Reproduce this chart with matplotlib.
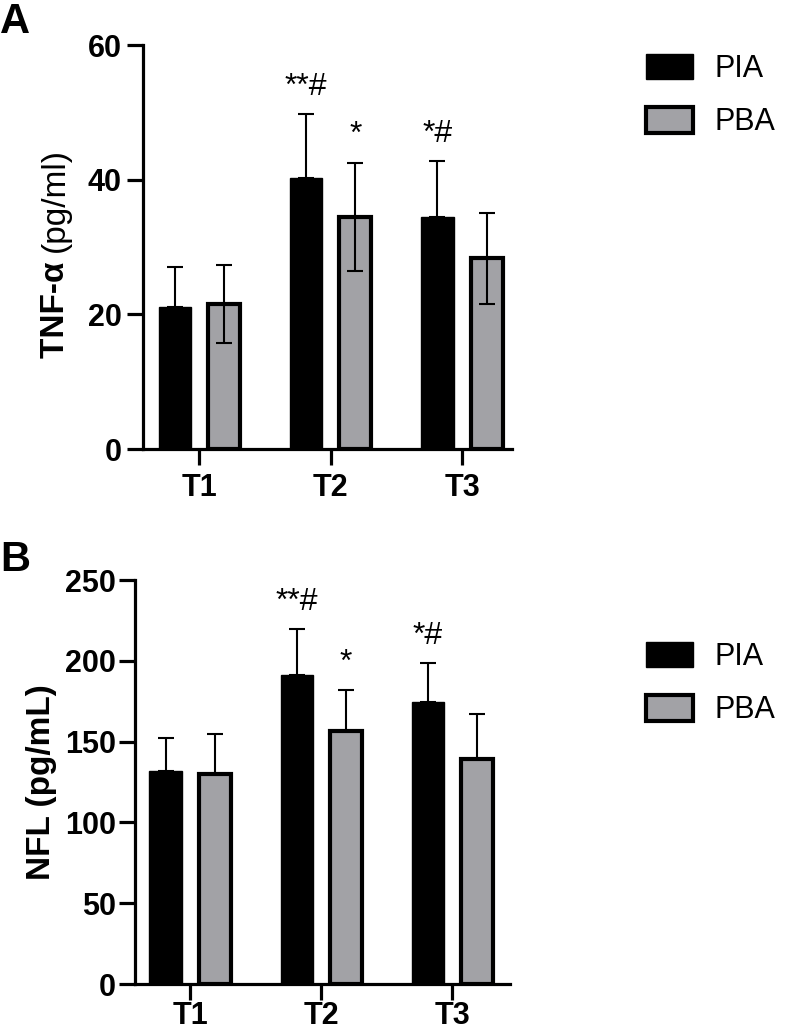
import matplotlib
matplotlib.use("Agg")
import matplotlib.pyplot as plt
import numpy as np
from matplotlib.patches import Patch

plt.rcParams["font.family"] = ["Liberation Sans", "DejaVu Sans"]

groups = ["T1", "T2", "T3"]

# panel A: TNF-alpha (pg/ml)
tnf_pia = [21.1, 40.3, 34.4]
tnf_pia_sd = [5.9, 9.4, 8.3]
tnf_pba = [21.6, 34.5, 28.3]
tnf_pba_sd = [5.8, 8.0, 6.7]
tnf_marks_pia = ["", "**#", "*#"]
tnf_marks_pba = ["", "*", ""]

# panel B: NFL (pg/mL)
nfl_pia = [132, 191, 174.5]
nfl_pia_sd = [20, 28.5, 24]
nfl_pba = [130, 156.5, 139.5]
nfl_pba_sd = [24.5, 25.5, 27.5]
nfl_marks_pia = ["", "**#", "*#"]
nfl_marks_pba = ["", "*", ""]

black = "#000000"
gray = "#a2a2a6"

W, H = 786, 1035
fig = plt.figure(figsize=(W / 100, H / 100), dpi=100)


def rect(l, t, r, b):
    return [l / W, 1 - b / H, (r - l) / W, (b - t) / H]


def panel(ax, pia, pia_sd, pba, pba_sd, marks_pia, marks_pba, ymax, step,
          xlim, pba_both, xpad, ypad):
    x = np.arange(len(groups))
    off, w = 0.187, 0.245
    ax.bar(x - off, pia, w, color=black, edgecolor=black, linewidth=1, zorder=2)
    ax.bar(x + off, pba, w, color=gray, edgecolor=black, linewidth=3, zorder=2)
    ax.errorbar(x - off, pia, yerr=[np.zeros(3), pia_sd], fmt="none",
                ecolor=black, elinewidth=1.5, capsize=6, capthick=1.5, zorder=1)
    low = pba_sd if pba_both else np.zeros(3)
    ax.errorbar(x + off, pba, yerr=[low, pba_sd], fmt="none",
                ecolor=black, elinewidth=1.5, capsize=6, capthick=1.5, zorder=3)
    for xi, v, s, m in zip(x - off, pia, pia_sd, marks_pia):
        if m:
            ax.annotate(m, (xi, v + s), xytext=(0, 14), textcoords="offset points",
                        ha="center", va="baseline", fontsize=23)
    for xi, v, s, m in zip(x + off, pba, pba_sd, marks_pba):
        if m:
            ax.annotate(m, (xi, v + s), xytext=(0, 14), textcoords="offset points",
                        ha="center", va="baseline", fontsize=23)
    ax.set_xlim(*xlim)
    ax.set_ylim(0, ymax)
    ax.set_yticks(np.arange(0, ymax + 1, step))
    ax.set_xticks(x)
    ax.set_xticklabels(groups)
    for sp in ["top", "right"]:
        ax.spines[sp].set_visible(False)
    for sp in ["left", "bottom"]:
        ax.spines[sp].set_linewidth(2.3)
    ax.tick_params(length=11.5, width=2.3, labelsize=22)
    ax.tick_params(axis="y", pad=ypad)
    ax.tick_params(axis="x", pad=xpad)
    for lab in ax.get_xticklabels() + ax.get_yticklabels():
        lab.set_fontweight("bold")


def legend(ax, top):
    handles = [Patch(facecolor=black, edgecolor=black, linewidth=1, label="PIA"),
               Patch(facecolor=gray, edgecolor=black, linewidth=3, label="PBA")]
    ax.legend(handles=handles, loc="upper left", frameon=False, fontsize=22,
              bbox_to_anchor=(646 / W, 1 - top / H), bbox_transform=fig.transFigure,
              borderpad=0, handlelength=1.55, handleheight=0.9, handletextpad=0.7,
              labelspacing=0.75, borderaxespad=0)


axA = fig.add_axes(rect(143, 45, 512, 449))
panel(axA, tnf_pia, tnf_pia_sd, tnf_pba, tnf_pba_sd, tnf_marks_pia, tnf_marks_pba,
      60, 20, (-0.428, 2.38), True, 6, 4)
legend(axA, 54)
fig.text(55 / W, 1 - 252 / H, "TNF-α ", rotation=90, ha="center", va="top",
         fontsize=24, fontweight="bold")
fig.text(55 / W, 1 - 252 / H, "(pg/ml)", rotation=90, ha="center", va="bottom",
         fontsize=24)
fig.text(0 / W, 1 - 2 / H, "A", fontsize=30, fontweight="bold", ha="left", va="top")

axB = fig.add_axes(rect(135, 580, 510, 984))
panel(axB, nfl_pia, nfl_pia_sd, nfl_pba, nfl_pba_sd, nfl_marks_pia, nfl_marks_pba,
      250, 50, (-0.42, 2.44), False, 1, 2)
legend(axB, 642)
axB.set_ylabel("NFL (pg/mL)", fontsize=24, fontweight="bold", labelpad=6)
fig.text(0 / W, 1 - 540 / H, "B", fontsize=30, fontweight="bold", ha="left", va="top")

plt.savefig("out.png", dpi=100)
